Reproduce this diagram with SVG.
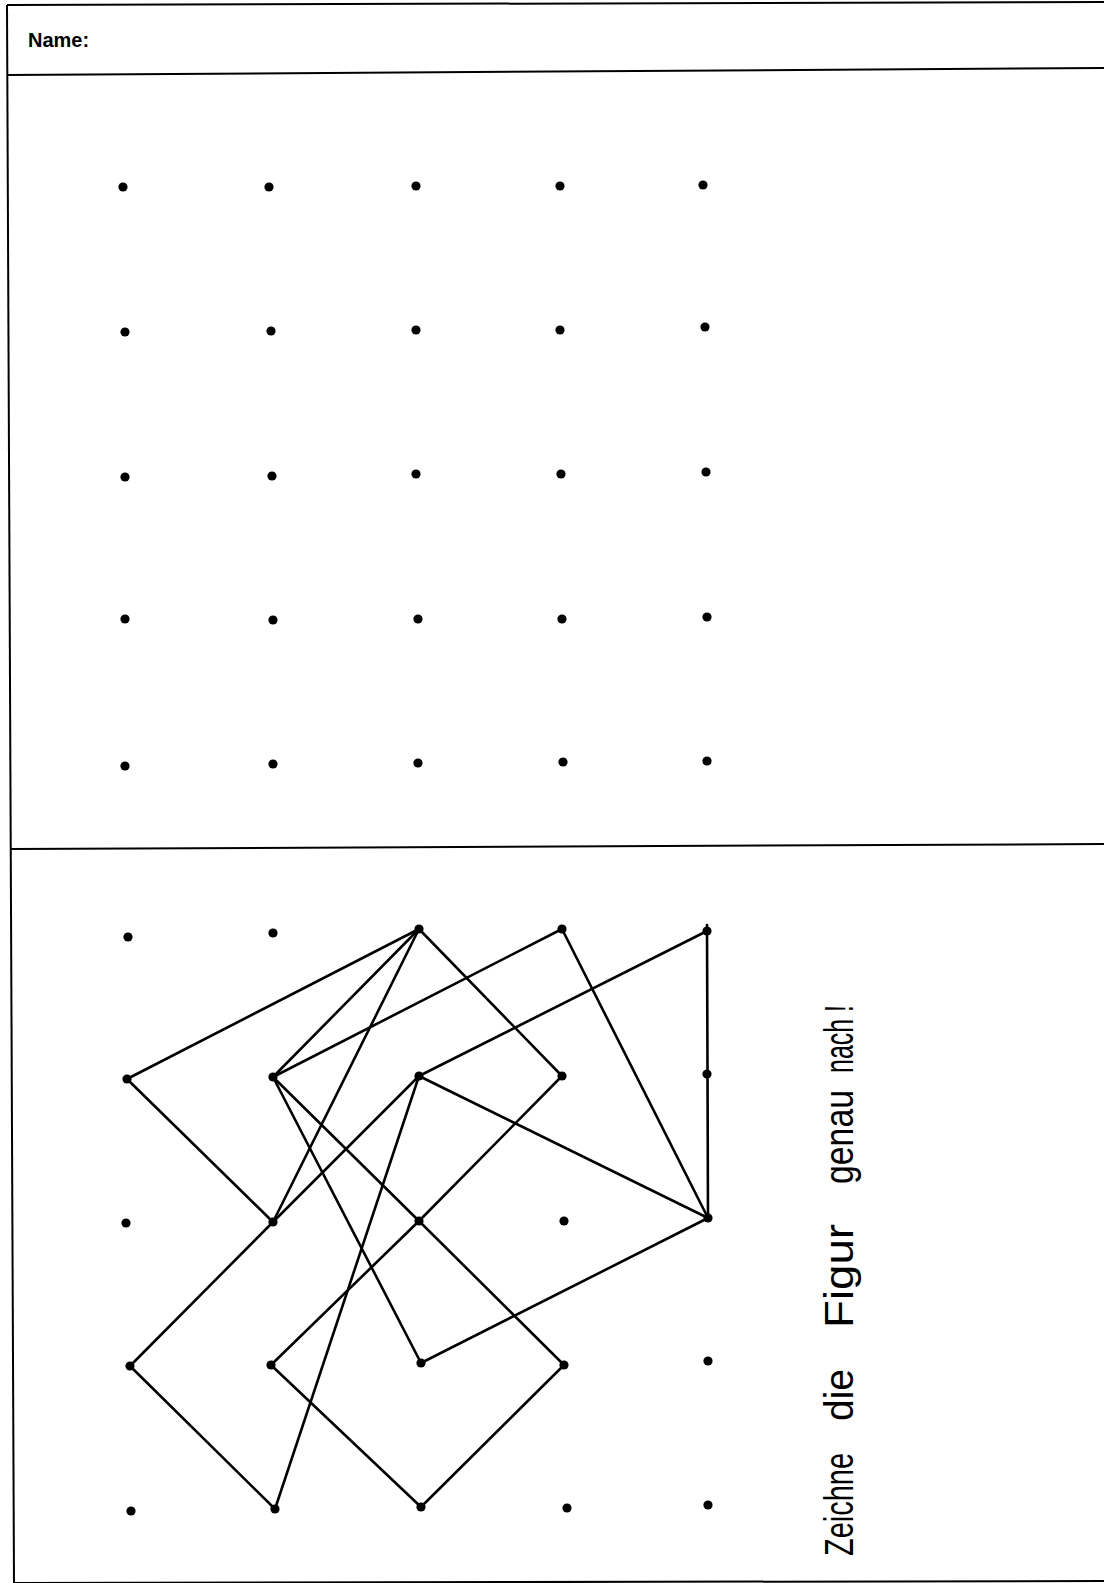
<svg xmlns="http://www.w3.org/2000/svg" width="1104" height="1583" viewBox="0 0 1104 1583">
<style>
.frame{stroke:#000;stroke-width:2;fill:none}
.ln{stroke:#000;stroke-width:2.6;fill:none;stroke-linecap:round;stroke-linejoin:round}
.dot{fill:#000}
.hdr{font-family:"Liberation Sans",Arial,sans-serif;font-weight:bold;font-size:20px;fill:#000}
.instr{font-family:"Liberation Sans",Arial,sans-serif;font-size:41px;fill:#000}
</style>
<rect width="1104" height="1583" fill="#fff"/>
<g id="frame">
<line class="frame" x1="7" y1="5" x2="1104" y2="2"/>
<line class="frame" x1="7" y1="5" x2="14" y2="1583"/>
<line class="frame" x1="7" y1="75" x2="1104" y2="68"/>
<line class="frame" x1="10" y1="849" x2="1104" y2="844"/>
<line class="frame" x1="14" y1="1583" x2="1104" y2="1581"/>
</g>
<text class="hdr" x="28" y="47">Name:</text>
<g id="top-grid">
<g id="T11"><circle class="dot" cx="123" cy="187" r="4.6"/></g>
<g id="T21"><circle class="dot" cx="269" cy="187" r="4.6"/></g>
<g id="T31"><circle class="dot" cx="416" cy="186" r="4.6"/></g>
<g id="T41"><circle class="dot" cx="560" cy="186" r="4.6"/></g>
<g id="T51"><circle class="dot" cx="703" cy="185" r="4.6"/></g>
<g id="T12"><circle class="dot" cx="125" cy="332" r="4.6"/></g>
<g id="T22"><circle class="dot" cx="271" cy="331" r="4.6"/></g>
<g id="T32"><circle class="dot" cx="416" cy="330" r="4.6"/></g>
<g id="T42"><circle class="dot" cx="560" cy="330" r="4.6"/></g>
<g id="T52"><circle class="dot" cx="705" cy="327" r="4.6"/></g>
<g id="T13"><circle class="dot" cx="125" cy="477" r="4.6"/></g>
<g id="T23"><circle class="dot" cx="272" cy="476" r="4.6"/></g>
<g id="T33"><circle class="dot" cx="416" cy="474" r="4.6"/></g>
<g id="T43"><circle class="dot" cx="561" cy="474" r="4.6"/></g>
<g id="T53"><circle class="dot" cx="706" cy="472" r="4.6"/></g>
<g id="T14"><circle class="dot" cx="125" cy="619" r="4.6"/></g>
<g id="T24"><circle class="dot" cx="273" cy="620" r="4.6"/></g>
<g id="T34"><circle class="dot" cx="418" cy="619" r="4.6"/></g>
<g id="T44"><circle class="dot" cx="562" cy="619" r="4.6"/></g>
<g id="T54"><circle class="dot" cx="707" cy="617" r="4.6"/></g>
<g id="T15"><circle class="dot" cx="125" cy="766" r="4.6"/></g>
<g id="T25"><circle class="dot" cx="273" cy="764" r="4.6"/></g>
<g id="T35"><circle class="dot" cx="418" cy="763" r="4.6"/></g>
<g id="T45"><circle class="dot" cx="563" cy="762" r="4.6"/></g>
<g id="T55"><circle class="dot" cx="707" cy="761" r="4.6"/></g>
</g>
<g id="connectors">
<polyline class="ln" points="127,1079 419,929"/>
<polyline class="ln" points="127,1079 273,1222"/>
<polyline class="ln" points="419,929 273,1077"/>
<polyline class="ln" points="419,929 273,1222"/>
<polyline class="ln" points="419,929 562,1076"/>
<polyline class="ln" points="273,1077 562,929"/>
<polyline class="ln" points="562,929 708,1218"/>
<polyline class="ln" points="707,931 419,1076"/>
<polyline class="ln" points="707,925 708,1218"/>
<polyline class="ln" points="419,1076 708,1218"/>
<polyline class="ln" points="419,1076 273,1222 130,1366"/>
<polyline class="ln" points="419,1076 275,1509"/>
<polyline class="ln" points="273,1077 419,1221 564,1365"/>
<polyline class="ln" points="273,1077 421,1363"/>
<polyline class="ln" points="421,1363 708,1218"/>
<polyline class="ln" points="562,1076 419,1221 271,1365"/>
<polyline class="ln" points="271,1365 421,1507"/>
<polyline class="ln" points="421,1507 564,1365"/>
<polyline class="ln" points="130,1366 275,1509"/>
</g>
<g id="bottom-grid">
<g id="B11"><circle class="dot" cx="128" cy="937" r="4.6"/></g>
<g id="B21"><circle class="dot" cx="273" cy="933" r="4.6"/></g>
<g id="B31"><circle class="dot" cx="419" cy="929" r="4.6"/></g>
<g id="B41"><circle class="dot" cx="562" cy="929" r="4.6"/></g>
<g id="B51"><circle class="dot" cx="707" cy="931" r="4.6"/></g>
<g id="B12"><circle class="dot" cx="127" cy="1079" r="4.6"/></g>
<g id="B22"><circle class="dot" cx="273" cy="1077" r="4.6"/></g>
<g id="B32"><circle class="dot" cx="419" cy="1076" r="4.6"/></g>
<g id="B42"><circle class="dot" cx="562" cy="1076" r="4.6"/></g>
<g id="B52"><circle class="dot" cx="707" cy="1074" r="4.6"/></g>
<g id="B13"><circle class="dot" cx="126" cy="1223" r="4.6"/></g>
<g id="B23"><circle class="dot" cx="273" cy="1222" r="4.6"/></g>
<g id="B33"><circle class="dot" cx="419" cy="1221" r="4.6"/></g>
<g id="B43"><circle class="dot" cx="564" cy="1221" r="4.6"/></g>
<g id="B53"><circle class="dot" cx="708" cy="1218" r="4.6"/></g>
<g id="B14"><circle class="dot" cx="130" cy="1366" r="4.6"/></g>
<g id="B24"><circle class="dot" cx="271" cy="1365" r="4.6"/></g>
<g id="B34"><circle class="dot" cx="421" cy="1363" r="4.6"/></g>
<g id="B44"><circle class="dot" cx="564" cy="1365" r="4.6"/></g>
<g id="B54"><circle class="dot" cx="708" cy="1361" r="4.6"/></g>
<g id="B15"><circle class="dot" cx="131" cy="1511" r="4.6"/></g>
<g id="B25"><circle class="dot" cx="275" cy="1509" r="4.6"/></g>
<g id="B35"><circle class="dot" cx="421" cy="1507" r="4.6"/></g>
<g id="B45"><circle class="dot" cx="567" cy="1508" r="4.6"/></g>
<g id="B55"><circle class="dot" cx="708" cy="1505" r="4.6"/></g>
</g>
<g id="instruction">
<text class="instr" transform="translate(853,1556) rotate(-90)" textLength="103" lengthAdjust="spacingAndGlyphs">Zeichne</text>
<text class="instr" transform="translate(853,1421) rotate(-90)" textLength="52" lengthAdjust="spacingAndGlyphs">die</text>
<text class="instr" transform="translate(853,1328) rotate(-90)" textLength="104" lengthAdjust="spacingAndGlyphs">Figur</text>
<text class="instr" transform="translate(853,1184) rotate(-90)" textLength="94" lengthAdjust="spacingAndGlyphs">genau</text>
<text class="instr" transform="translate(853,1073) rotate(-90)" textLength="68" lengthAdjust="spacingAndGlyphs">nach !</text>
</g>
</svg>
